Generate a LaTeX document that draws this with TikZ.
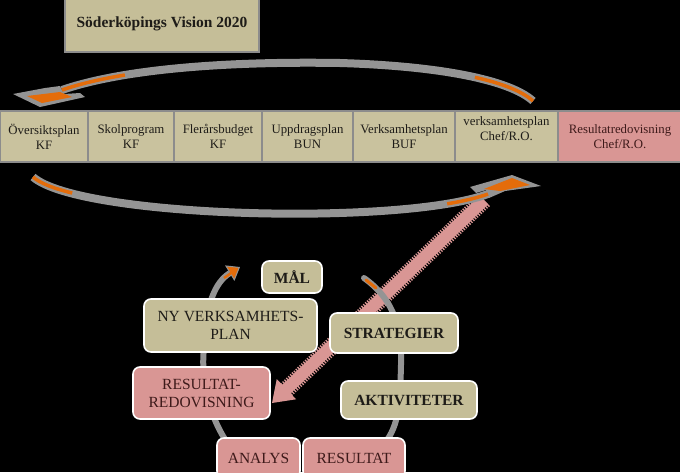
\documentclass[tikz,border=0pt]{standalone}
\usepackage{fontspec}
\setmainfont{Liberation Serif}
\usetikzlibrary{arrows.meta,positioning}
\definecolor{visiontan}{RGB}{197,190,152}
\definecolor{rowtan}{RGB}{201,194,158}
\definecolor{rosepink}{RGB}{217,150,148}
\definecolor{ashgray}{RGB}{148,148,148}
\definecolor{framegray}{RGB}{140,140,140}
\definecolor{flame}{RGB}{228,108,10}
\definecolor{ink}{RGB}{30,28,24}
\definecolor{wine}{RGB}{62,26,26}
\begin{document}
\begin{tikzpicture}[x=1pt,y=-1pt,
  rowbox/.style={draw=framegray,line width=1.5pt,fill=rowtan,minimum height=51pt,inner sep=0pt,outer sep=0pt,align=center,text=ink,font=\fontsize{12.8}{15}\selectfont},
  rowpink/.style={rowbox,fill=rosepink,text=wine},
  cyclebox/.style={draw=white,line width=1.6pt,rounded corners=7pt,fill=visiontan,align=center,inner sep=0pt,text=ink,font=\fontsize{15.5}{18}\selectfont},
  cyclebold/.style={cyclebox,font=\fontsize{15.5}{18}\selectfont\bfseries},
  cyclepink/.style={cyclebox,fill=rosepink,text=wine},
  swoosh/.style={draw=ashgray,line width=8pt},
  ember/.style={draw=flame,line width=3.5pt},
  cyclearc/.style={draw=ashgray,line width=6pt}]

\useasboundingbox (0,0) rectangle (680,472);
\fill[black] (0,0) rectangle (680,472);

%named ends of the arrows
\coordinate (topstart) at (533,101);
\coordinate (topend) at (62,90);
\coordinate (botstart) at (33,177);
\coordinate (botend) at (488,194);
\coordinate (pinkstart) at (484,200);
\coordinate (pinkbase) at (286,390);
\coordinate (pinkend) at (272,403);
\coordinate (leftfoot) at (228,444);
\coordinate (lefttop) at (240,267);
\coordinate (righttop) at (364,278);
\coordinate (rightfoot) at (384,444);

%draw the pink arrow with a ragged edge
\draw[rosepink,line width=17pt,dash pattern=on 1.3pt off 1.3pt] (pinkstart) -- (pinkbase);
\draw[rosepink,line width=12pt,-{Triangle[length=20pt,width=28pt,line width=0pt]}] (pinkstart) -- (pinkend);

%draw the upper swoosh, right to left
\draw[swoosh]
  (topstart) .. controls (510,80) and (440,66) .. (340,63)
  .. controls (220,61) and (120,70) .. (topend);
\fill[ashgray] (60,86) -- (45,88) -- (13,94) -- (40,107) -- (85,97) -- (80,93) -- (64,94) -- cycle;
\draw[ember] (topstart) .. controls (522.7,91.6) and (502.8,83.5) .. (474.9,77.3);
\draw[ember] (124.9,75) .. controls (100.5,79) and (79.4,84) .. (topend);
\fill[flame] (27,96) -- (42,103) -- (72,97) -- (60,92) -- cycle;

%draw the lower swoosh, left to right
\draw[swoosh]
  (botstart) .. controls (80,218) and (400,226) .. (botend);
\fill[ashgray] (486,190) -- (476,193) -- (470,187) -- (512,175) -- (541,186) -- (505,191) -- (489,198) -- cycle;
\draw[ember] (botstart) .. controls (40,183.2) and (53.7,188.5) .. (72.2,193);
\draw[ember] (447.2,203.8) .. controls (463.6,201.1) and (477.4,197.8) .. (botend);
\fill[flame] (484,189) -- (512,178) -- (530,185) -- (500,191) -- cycle;

%draw the cycle
\draw[cyclearc,-{Triangle[length=12pt,width=18pt,line width=1pt,fill=flame]}]
  (leftfoot) .. controls (205,410) and (200,370) .. (205,340)
  .. controls (206,305) and (215,282) .. (lefttop);
\draw[flame,line width=2.5pt,shorten >=6pt] (224,278) -- (lefttop);
\draw[cyclearc,line cap=round]
  (righttop) .. controls (395,300) and (402,330) .. (401,365)
  .. controls (400,400) and (400,425) .. (rightfoot);
\draw[flame,line width=3pt,line cap=round] (366,280) -- (376,288);

%title
\node[draw=framegray,line width=2pt,fill=visiontan,minimum width=194pt,minimum height=56pt,text=ink,font=\fontsize{15.5}{18}\selectfont\bfseries] (vision) at (162,24) {Söderköpings Vision 2020};

%row of plans
\node[rowbox,minimum width=88pt,anchor=west] (oversikt) at (0,136.5) {Översiktsplan\\KF};
\node[rowbox,minimum width=86pt,right=0pt of oversikt] (skol) {Skolprogram\\KF};
\node[rowbox,minimum width=88pt,right=0pt of skol] (flerar) {Flerårsbudget\\KF};
\node[rowbox,minimum width=91pt,right=0pt of flerar] (uppdrag) {Uppdragsplan\\BUN};
\node[rowbox,minimum width=102pt,right=0pt of uppdrag] (verkbuf) {Verksamhetsplan\\BUF};
\node[rowbox,minimum width=103pt,right=0pt of verkbuf] (verkchef) {verksamhetsplan\\Chef/R.O.\\\mbox{}};
\node[rowpink,minimum width=124pt,right=0pt of verkchef] (resultchef) {Resultatredovisning\\Chef/R.O.};

%cycle boxes
\node[cyclebold,minimum width=60pt,minimum height=32pt] (mal) at (292,277) {MÅL};
\node[cyclebox,minimum width=173pt,minimum height=53pt] (nyplan) at (230.5,325.5) {NY VERKSAMHETS-\\PLAN};
\node[cyclebold,minimum width=128pt,minimum height=40pt] (strategier) at (394,333) {STRATEGIER};
\node[cyclepink,minimum width=137pt,minimum height=52pt] (redov) at (201.5,393) {RESULTAT-\\REDOVISNING};
\node[cyclebold,minimum width=136pt,minimum height=38pt] (aktiviteter) at (409,400) {AKTIVITETER};
\node[cyclepink,minimum width=83pt,minimum height=40pt] (analys) at (258.5,458) {ANALYS};
\node[cyclepink,minimum width=102pt,minimum height=40pt] (resultat) at (354,458) {RESULTAT};

\end{tikzpicture}
\end{document}
